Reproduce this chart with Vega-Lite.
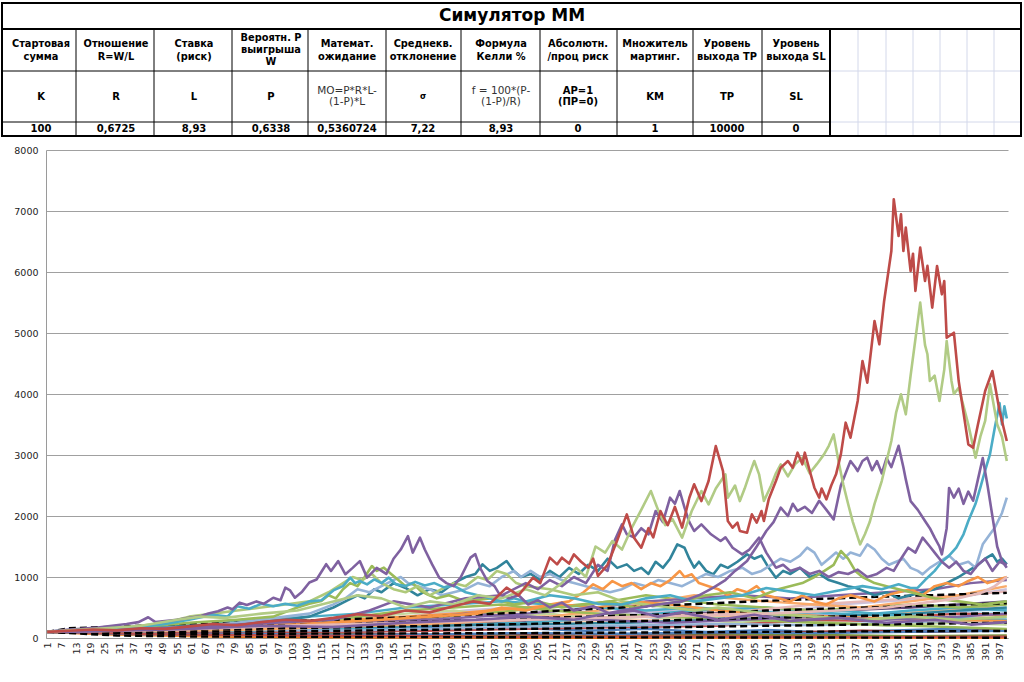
{
 "$schema": "https://vega.github.io/schema/vega-lite/v6.json",
 "padding": 0,
 "background": "white",
 "spacing": 7,
 "config": {"view": {"stroke": null}, "font": "DejaVu Sans"},
 "datasets": {
  "tlines": [
   {"k":"thick","x1":2,"x2":1021,"y1":3,"y2":3},
   {"k":"thick","x1":2,"x2":1021,"y1":136,"y2":136},
   {"k":"thick","x1":2,"x2":2,"y1":3,"y2":136},
   {"k":"thick","x1":1021,"x2":1021,"y1":3,"y2":136},
   {"k":"thick","x1":2,"x2":1021,"y1":29,"y2":29},
   {"k":"thick","x1":830,"x2":830,"y1":29,"y2":136},
   {"k":"thin","x1":76,"x2":76,"y1":29,"y2":136},
   {"k":"thin","x1":154,"x2":154,"y1":29,"y2":136},
   {"k":"thin","x1":232,"x2":232,"y1":29,"y2":136},
   {"k":"thin","x1":308,"x2":308,"y1":29,"y2":136},
   {"k":"thin","x1":386,"x2":386,"y1":29,"y2":136},
   {"k":"thin","x1":461,"x2":461,"y1":29,"y2":136},
   {"k":"thin","x1":540,"x2":540,"y1":29,"y2":136},
   {"k":"thin","x1":617,"x2":617,"y1":29,"y2":136},
   {"k":"thin","x1":693,"x2":693,"y1":29,"y2":136},
   {"k":"thin","x1":762,"x2":762,"y1":29,"y2":136},
   {"k":"thin","x1":2,"x2":830,"y1":71,"y2":71},
   {"k":"thin","x1":2,"x2":830,"y1":122,"y2":122},
   {"k":"grid","x1":858,"x2":858,"y1":29,"y2":136},
   {"k":"grid","x1":886,"x2":886,"y1":29,"y2":136},
   {"k":"grid","x1":913,"x2":913,"y1":29,"y2":136},
   {"k":"grid","x1":940,"x2":940,"y1":29,"y2":136},
   {"k":"grid","x1":967,"x2":967,"y1":29,"y2":136},
   {"k":"grid","x1":994,"x2":994,"y1":29,"y2":136},
   {"k":"grid","x1":830,"x2":1021,"y1":71,"y2":71},
   {"k":"grid","x1":830,"x2":1021,"y1":122,"y2":122}
  ],
  "ttext": [
   {"p":"title","cx":512,"ty":16,"t":"Симулятор ММ"},
   {"p":"h","cx":41,"ty":44,"t":"Стартовая"},{"p":"h","cx":41,"ty":57,"t":"сумма"},
   {"p":"h","cx":116,"ty":44,"t":"Отношение"},{"p":"h","cx":116,"ty":57,"t":"R=W/L"},
   {"p":"h","cx":194,"ty":44,"t":"Ставка"},{"p":"h","cx":194,"ty":57,"t":"(риск)"},
   {"p":"h","cx":271,"ty":38,"t":"Вероятн. P"},{"p":"h","cx":271,"ty":50,"t":"выигрыша"},{"p":"h","cx":271,"ty":62,"t":"W"},
   {"p":"h","cx":347,"ty":44,"t":"Математ."},{"p":"h","cx":347,"ty":57,"t":"ожидание"},
   {"p":"h","cx":423,"ty":44,"t":"Среднекв."},{"p":"h","cx":423,"ty":57,"t":"отклонение"},
   {"p":"h","cx":501,"ty":44,"t":"Формула"},{"p":"h","cx":501,"ty":57,"t":"Келли %"},
   {"p":"h","cx":578,"ty":44,"t":"Абсолютн."},{"p":"h","cx":578,"ty":57,"t":"/проц риск"},
   {"p":"h","cx":655,"ty":44,"t":"Множитель"},{"p":"h","cx":655,"ty":57,"t":"мартинг."},
   {"p":"h","cx":727,"ty":44,"t":"Уровень"},{"p":"h","cx":727,"ty":57,"t":"выхода TP"},
   {"p":"h","cx":796,"ty":44,"t":"Уровень"},{"p":"h","cx":796,"ty":57,"t":"выхода SL"},
   {"p":"sym","cx":41,"ty":97,"t":"K"},
   {"p":"sym","cx":116,"ty":97,"t":"R"},
   {"p":"sym","cx":194,"ty":97,"t":"L"},
   {"p":"sym","cx":271,"ty":97,"t":"P"},
   {"p":"f","cx":347,"ty":91,"t":"MO=P*R*L-"},{"p":"f","cx":347,"ty":102,"t":"(1-P)*L"},
   {"p":"sig","cx":423,"ty":97,"t":"σ"},
   {"p":"f","cx":501,"ty":91,"t":"f = 100*(P-"},{"p":"f","cx":501,"ty":102,"t":"(1-P)/R)"},
   {"p":"sym","cx":578,"ty":91,"t":"AP=1"},{"p":"sym","cx":578,"ty":102,"t":"(ПР=0)"},
   {"p":"sym","cx":655,"ty":97,"t":"KM"},
   {"p":"sym","cx":727,"ty":97,"t":"TP"},
   {"p":"sym","cx":796,"ty":97,"t":"SL"},
   {"p":"val","cx":41,"ty":129,"t":"100"},
   {"p":"val","cx":116,"ty":129,"t":"0,6725"},
   {"p":"val","cx":194,"ty":129,"t":"8,93"},
   {"p":"val","cx":271,"ty":129,"t":"0,6338"},
   {"p":"val","cx":347,"ty":129,"t":"0,5360724"},
   {"p":"val","cx":423,"ty":129,"t":"7,22"},
   {"p":"val","cx":501,"ty":129,"t":"8,93"},
   {"p":"val","cx":578,"ty":129,"t":"0"},
   {"p":"val","cx":655,"ty":129,"t":"1"},
   {"p":"val","cx":727,"ty":129,"t":"10000"},
   {"p":"val","cx":796,"ty":129,"t":"0"}
  ],
  "low": [
   {"s":"l1","i":1,"v":100},{"s":"l1","i":25,"v":90},{"s":"l1","i":50,"v":130},{"s":"l1","i":75,"v":110},{"s":"l1","i":100,"v":150},{"s":"l1","i":125,"v":120},{"s":"l1","i":150,"v":180},{"s":"l1","i":175,"v":140},{"s":"l1","i":200,"v":160},{"s":"l1","i":225,"v":120},{"s":"l1","i":250,"v":150},{"s":"l1","i":275,"v":100},{"s":"l1","i":300,"v":130},{"s":"l1","i":325,"v":90},{"s":"l1","i":350,"v":120},{"s":"l1","i":375,"v":150},{"s":"l1","i":400,"v":130},
   {"s":"l2","i":1,"v":100},{"s":"l2","i":30,"v":80},{"s":"l2","i":60,"v":60},{"s":"l2","i":90,"v":70},{"s":"l2","i":120,"v":50},{"s":"l2","i":150,"v":40},{"s":"l2","i":180,"v":55},{"s":"l2","i":210,"v":30},{"s":"l2","i":240,"v":40},{"s":"l2","i":270,"v":25},{"s":"l2","i":300,"v":30},{"s":"l2","i":330,"v":20},{"s":"l2","i":360,"v":25},{"s":"l2","i":400,"v":15},
   {"s":"l3","i":1,"v":100},{"s":"l3","i":20,"v":70},{"s":"l3","i":40,"v":50},{"s":"l3","i":60,"v":30},{"s":"l3","i":80,"v":20},{"s":"l3","i":100,"v":15},{"s":"l3","i":130,"v":10},{"s":"l3","i":160,"v":8},{"s":"l3","i":200,"v":5},{"s":"l3","i":250,"v":5},{"s":"l3","i":300,"v":4},{"s":"l3","i":350,"v":3},{"s":"l3","i":400,"v":3},
   {"s":"l4","i":1,"v":100},{"s":"l4","i":25,"v":120},{"s":"l4","i":50,"v":90},{"s":"l4","i":75,"v":80},{"s":"l4","i":100,"v":60},{"s":"l4","i":130,"v":75},{"s":"l4","i":160,"v":50},{"s":"l4","i":190,"v":60},{"s":"l4","i":220,"v":40},{"s":"l4","i":250,"v":50},{"s":"l4","i":280,"v":70},{"s":"l4","i":310,"v":90},{"s":"l4","i":340,"v":120},{"s":"l4","i":370,"v":100},{"s":"l4","i":400,"v":130},
   {"s":"l5","i":1,"v":100},{"s":"l5","i":30,"v":60},{"s":"l5","i":60,"v":40},{"s":"l5","i":90,"v":30},{"s":"l5","i":120,"v":35},{"s":"l5","i":150,"v":25},{"s":"l5","i":180,"v":20},{"s":"l5","i":210,"v":15},{"s":"l5","i":240,"v":20},{"s":"l5","i":270,"v":10},{"s":"l5","i":300,"v":12},{"s":"l5","i":340,"v":8},{"s":"l5","i":400,"v":10},
   {"s":"l6","i":1,"v":100},{"s":"l6","i":20,"v":130},{"s":"l6","i":45,"v":160},{"s":"l6","i":70,"v":200},{"s":"l6","i":95,"v":180},{"s":"l6","i":120,"v":250},{"s":"l6","i":145,"v":220},{"s":"l6","i":170,"v":300},{"s":"l6","i":195,"v":260},{"s":"l6","i":220,"v":330},{"s":"l6","i":245,"v":280},{"s":"l6","i":270,"v":350},{"s":"l6","i":295,"v":300},{"s":"l6","i":320,"v":380},{"s":"l6","i":345,"v":340},{"s":"l6","i":370,"v":420},{"s":"l6","i":400,"v":480},
   {"s":"l7","i":1,"v":100},{"s":"l7","i":25,"v":140},{"s":"l7","i":50,"v":180},{"s":"l7","i":75,"v":160},{"s":"l7","i":100,"v":220},{"s":"l7","i":125,"v":260},{"s":"l7","i":150,"v":300},{"s":"l7","i":170,"v":380},{"s":"l7","i":190,"v":420},{"s":"l7","i":210,"v":350},{"s":"l7","i":230,"v":400},{"s":"l7","i":250,"v":450},{"s":"l7","i":270,"v":380},{"s":"l7","i":290,"v":350},{"s":"l7","i":310,"v":300},{"s":"l7","i":330,"v":330},{"s":"l7","i":350,"v":380},{"s":"l7","i":370,"v":450},{"s":"l7","i":390,"v":500},{"s":"l7","i":400,"v":560},
   {"s":"l8","i":1,"v":100},{"s":"l8","i":30,"v":110},{"s":"l8","i":60,"v":130},{"s":"l8","i":90,"v":170},{"s":"l8","i":120,"v":200},{"s":"l8","i":150,"v":250},{"s":"l8","i":180,"v":220},{"s":"l8","i":210,"v":280},{"s":"l8","i":240,"v":230},{"s":"l8","i":270,"v":300},{"s":"l8","i":300,"v":260},{"s":"l8","i":330,"v":320},{"s":"l8","i":360,"v":380},{"s":"l8","i":400,"v":420},
   {"s":"l9","i":1,"v":100},{"s":"l9","i":30,"v":130},{"s":"l9","i":60,"v":160},{"s":"l9","i":90,"v":200},{"s":"l9","i":120,"v":300},{"s":"l9","i":150,"v":350},{"s":"l9","i":175,"v":450},{"s":"l9","i":195,"v":500},{"s":"l9","i":215,"v":450},{"s":"l9","i":240,"v":400},{"s":"l9","i":265,"v":450},{"s":"l9","i":290,"v":500},{"s":"l9","i":310,"v":450},{"s":"l9","i":330,"v":550},{"s":"l9","i":350,"v":600},{"s":"l9","i":370,"v":650},{"s":"l9","i":385,"v":700},{"s":"l9","i":400,"v":800},
   {"s":"l10","i":1,"v":100},{"s":"l10","i":30,"v":120},{"s":"l10","i":60,"v":180},{"s":"l10","i":90,"v":250},{"s":"l10","i":120,"v":300},{"s":"l10","i":150,"v":400},{"s":"l10","i":170,"v":450},{"s":"l10","i":190,"v":350},{"s":"l10","i":210,"v":400},{"s":"l10","i":230,"v":300},{"s":"l10","i":250,"v":350},{"s":"l10","i":270,"v":300},{"s":"l10","i":290,"v":250},{"s":"l10","i":310,"v":300},{"s":"l10","i":330,"v":250},{"s":"l10","i":350,"v":200},{"s":"l10","i":375,"v":250},{"s":"l10","i":400,"v":220},
   {"s":"l11","i":1,"v":100},{"s":"l11","i":40,"v":140},{"s":"l11","i":80,"v":200},{"s":"l11","i":120,"v":180},{"s":"l11","i":160,"v":250},{"s":"l11","i":200,"v":220},{"s":"l11","i":240,"v":300},{"s":"l11","i":280,"v":280},{"s":"l11","i":320,"v":350},{"s":"l11","i":360,"v":320},{"s":"l11","i":400,"v":380},
   {"s":"l12","i":1,"v":100},{"s":"l12","i":30,"v":90},{"s":"l12","i":60,"v":110},{"s":"l12","i":90,"v":130},{"s":"l12","i":120,"v":160},{"s":"l12","i":150,"v":200},{"s":"l12","i":180,"v":250},{"s":"l12","i":210,"v":300},{"s":"l12","i":240,"v":350},{"s":"l12","i":270,"v":420},{"s":"l12","i":300,"v":380},{"s":"l12","i":330,"v":450},{"s":"l12","i":360,"v":500},{"s":"l12","i":380,"v":550},{"s":"l12","i":400,"v":600},
   {"s":"l13","i":1,"v":100},{"s":"l13","i":40,"v":80},{"s":"l13","i":80,"v":100},{"s":"l13","i":120,"v":150},{"s":"l13","i":160,"v":200},{"s":"l13","i":200,"v":250},{"s":"l13","i":240,"v":350},{"s":"l13","i":270,"v":450},{"s":"l13","i":300,"v":500},{"s":"l13","i":320,"v":420},{"s":"l13","i":340,"v":380},{"s":"l13","i":360,"v":450},{"s":"l13","i":380,"v":500},{"s":"l13","i":400,"v":450},
   {"s":"l14","i":1,"v":100},{"s":"l14","i":40,"v":110},{"s":"l14","i":80,"v":80},{"s":"l14","i":120,"v":100},{"s":"l14","i":160,"v":120},{"s":"l14","i":200,"v":150},{"s":"l14","i":240,"v":180},{"s":"l14","i":280,"v":200},{"s":"l14","i":300,"v":250},{"s":"l14","i":320,"v":300},{"s":"l14","i":340,"v":280},{"s":"l14","i":360,"v":350},{"s":"l14","i":380,"v":400},{"s":"l14","i":400,"v":380},
   {"s":"l15","i":1,"v":100},{"s":"l15","i":40,"v":70},{"s":"l15","i":80,"v":50},{"s":"l15","i":120,"v":60},{"s":"l15","i":160,"v":40},{"s":"l15","i":200,"v":30},{"s":"l15","i":240,"v":35},{"s":"l15","i":280,"v":40},{"s":"l15","i":320,"v":50},{"s":"l15","i":360,"v":30},{"s":"l15","i":400,"v":40},
   {"s":"l16","i":1,"v":100},{"s":"l16","i":30,"v":150},{"s":"l16","i":60,"v":200},{"s":"l16","i":90,"v":180},{"s":"l16","i":120,"v":250},{"s":"l16","i":150,"v":300},{"s":"l16","i":180,"v":400},{"s":"l16","i":210,"v":500},{"s":"l16","i":235,"v":600},{"s":"l16","i":250,"v":700},{"s":"l16","i":260,"v":650},{"s":"l16","i":280,"v":550},{"s":"l16","i":300,"v":500},{"s":"l16","i":320,"v":450},{"s":"l16","i":340,"v":500},{"s":"l16","i":360,"v":550},{"s":"l16","i":380,"v":500},{"s":"l16","i":400,"v":550},
   {"s":"l17","i":1,"v":100},{"s":"l17","i":40,"v":120},{"s":"l17","i":80,"v":150},{"s":"l17","i":120,"v":180},{"s":"l17","i":160,"v":200},{"s":"l17","i":200,"v":220},{"s":"l17","i":240,"v":250},{"s":"l17","i":280,"v":300},{"s":"l17","i":320,"v":350},{"s":"l17","i":360,"v":400},{"s":"l17","i":400,"v":500},
   {"s":"l18","i":1,"v":100},{"s":"l18","i":40,"v":130},{"s":"l18","i":80,"v":160},{"s":"l18","i":120,"v":200},{"s":"l18","i":160,"v":260},{"s":"l18","i":200,"v":300},{"s":"l18","i":240,"v":350},{"s":"l18","i":280,"v":400},{"s":"l18","i":320,"v":550},{"s":"l18","i":340,"v":600},{"s":"l18","i":360,"v":650},{"s":"l18","i":380,"v":700},{"s":"l18","i":400,"v":760},
   {"s":"l19","i":1,"v":100},{"s":"l19","i":40,"v":110},{"s":"l19","i":80,"v":140},{"s":"l19","i":120,"v":120},{"s":"l19","i":160,"v":150},{"s":"l19","i":200,"v":180},{"s":"l19","i":240,"v":200},{"s":"l19","i":280,"v":230},{"s":"l19","i":320,"v":210},{"s":"l19","i":360,"v":260},{"s":"l19","i":400,"v":300},
   {"s":"l20","i":1,"v":100},{"s":"l20","i":40,"v":120},{"s":"l20","i":80,"v":130},{"s":"l20","i":120,"v":180},{"s":"l20","i":160,"v":230},{"s":"l20","i":200,"v":300},{"s":"l20","i":220,"v":400},{"s":"l20","i":240,"v":500},{"s":"l20","i":255,"v":600},{"s":"l20","i":270,"v":700},{"s":"l20","i":285,"v":650},{"s":"l20","i":300,"v":600},{"s":"l20","i":320,"v":550},{"s":"l20","i":340,"v":500},{"s":"l20","i":360,"v":600},{"s":"l20","i":380,"v":700},{"s":"l20","i":400,"v":850},
   {"s":"l21","i":1,"v":100},{"s":"l21","i":40,"v":60},{"s":"l21","i":80,"v":70},{"s":"l21","i":120,"v":50},{"s":"l21","i":160,"v":60},{"s":"l21","i":200,"v":80},{"s":"l21","i":240,"v":70},{"s":"l21","i":280,"v":90},{"s":"l21","i":320,"v":80},{"s":"l21","i":360,"v":100},{"s":"l21","i":400,"v":120},
   {"s":"l22","i":1,"v":100},{"s":"l22","i":40,"v":150},{"s":"l22","i":80,"v":200},{"s":"l22","i":120,"v":250},{"s":"l22","i":160,"v":300},{"s":"l22","i":200,"v":400},{"s":"l22","i":230,"v":500},{"s":"l22","i":250,"v":600},{"s":"l22","i":270,"v":650},{"s":"l22","i":290,"v":700},{"s":"l22","i":310,"v":650},{"s":"l22","i":330,"v":700},{"s":"l22","i":350,"v":750},{"s":"l22","i":370,"v":800},{"s":"l22","i":385,"v":900},{"s":"l22","i":400,"v":950},
   {"s":"l23","i":1,"v":100},{"s":"l23","i":50,"v":60},{"s":"l23","i":100,"v":40},{"s":"l23","i":150,"v":30},{"s":"l23","i":200,"v":20},{"s":"l23","i":250,"v":25},{"s":"l23","i":300,"v":20},{"s":"l23","i":350,"v":15},{"s":"l23","i":400,"v":20},
   {"s":"l24","i":1,"v":100},{"s":"l24","i":30,"v":140},{"s":"l24","i":60,"v":200},{"s":"l24","i":90,"v":300},{"s":"l24","i":110,"v":350},{"s":"l24","i":130,"v":400},{"s":"l24","i":150,"v":500},{"s":"l24","i":170,"v":550},{"s":"l24","i":190,"v":600},{"s":"l24","i":210,"v":550},{"s":"l24","i":230,"v":500},{"s":"l24","i":250,"v":450},{"s":"l24","i":270,"v":500},{"s":"l24","i":290,"v":450},{"s":"l24","i":310,"v":400},{"s":"l24","i":330,"v":450},{"s":"l24","i":360,"v":350},{"s":"l24","i":400,"v":300},
   {"s":"l25","i":1,"v":100},{"s":"l25","i":30,"v":130},{"s":"l25","i":60,"v":180},{"s":"l25","i":90,"v":220},{"s":"l25","i":120,"v":280},{"s":"l25","i":150,"v":350},{"s":"l25","i":170,"v":400},{"s":"l25","i":185,"v":450},{"s":"l25","i":200,"v":500},{"s":"l25","i":215,"v":550},{"s":"l25","i":230,"v":500},{"s":"l25","i":245,"v":600},{"s":"l25","i":260,"v":550},{"s":"l25","i":280,"v":450},{"s":"l25","i":300,"v":400},{"s":"l25","i":330,"v":350},{"s":"l25","i":360,"v":300},{"s":"l25","i":400,"v":280},
   {"s":"l26","i":1,"v":100},{"s":"l26","i":40,"v":150},{"s":"l26","i":80,"v":250},{"s":"l26","i":120,"v":300},{"s":"l26","i":150,"v":450},{"s":"l26","i":170,"v":500},{"s":"l26","i":190,"v":550},{"s":"l26","i":210,"v":450},{"s":"l26","i":230,"v":400},{"s":"l26","i":260,"v":350},{"s":"l26","i":290,"v":300},{"s":"l26","i":320,"v":250},{"s":"l26","i":360,"v":200},{"s":"l26","i":400,"v":150},
   {"s":"l27","i":1,"v":100},{"s":"l27","i":40,"v":130},{"s":"l27","i":80,"v":180},{"s":"l27","i":120,"v":220},{"s":"l27","i":150,"v":300},{"s":"l27","i":175,"v":400},{"s":"l27","i":200,"v":350},{"s":"l27","i":230,"v":300},{"s":"l27","i":260,"v":250},{"s":"l27","i":290,"v":300},{"s":"l27","i":320,"v":350},{"s":"l27","i":350,"v":300},{"s":"l27","i":380,"v":350},{"s":"l27","i":400,"v":400}
  ],
  "dash": [
   {"s":"d1","i":1,"v":100},{"s":"d1","i":10,"v":160},{"s":"d1","i":40,"v":200},{"s":"d1","i":80,"v":250},{"s":"d1","i":120,"v":300},{"s":"d1","i":160,"v":350},{"s":"d1","i":200,"v":420},{"s":"d1","i":250,"v":520},{"s":"d1","i":300,"v":610},{"s":"d1","i":350,"v":680},{"s":"d1","i":400,"v":740},
   {"s":"d2","i":1,"v":100},{"s":"d2","i":50,"v":160},{"s":"d2","i":100,"v":210},{"s":"d2","i":150,"v":260},{"s":"d2","i":200,"v":320},{"s":"d2","i":250,"v":380},{"s":"d2","i":300,"v":450},{"s":"d2","i":350,"v":510},{"s":"d2","i":400,"v":570},
   {"s":"d3","i":1,"v":100},{"s":"d3","i":50,"v":130},{"s":"d3","i":100,"v":160},{"s":"d3","i":150,"v":190},{"s":"d3","i":200,"v":230},{"s":"d3","i":250,"v":280},{"s":"d3","i":300,"v":330},{"s":"d3","i":350,"v":370},{"s":"d3","i":400,"v":410},
   {"s":"d4","i":1,"v":100},{"s":"d4","i":50,"v":100},{"s":"d4","i":100,"v":110},{"s":"d4","i":150,"v":130},{"s":"d4","i":200,"v":150},{"s":"d4","i":250,"v":170},{"s":"d4","i":300,"v":200},{"s":"d4","i":350,"v":225},{"s":"d4","i":400,"v":250},
   {"s":"d5","i":1,"v":100},{"s":"d5","i":50,"v":70},{"s":"d5","i":100,"v":70},{"s":"d5","i":150,"v":75},{"s":"d5","i":200,"v":80},{"s":"d5","i":250,"v":90},{"s":"d5","i":300,"v":100},{"s":"d5","i":350,"v":110},{"s":"d5","i":400,"v":115},
   {"s":"d6","i":1,"v":100},{"s":"d6","i":30,"v":40},{"s":"d6","i":60,"v":25},{"s":"d6","i":100,"v":20},{"s":"d6","i":150,"v":15},{"s":"d6","i":200,"v":12},{"s":"d6","i":300,"v":8},{"s":"d6","i":400,"v":5}
  ],
  "major": [
   {"s":"dteal","i":1,"v":100},{"s":"dteal","i":20,"v":120},{"s":"dteal","i":40,"v":160},{"s":"dteal","i":60,"v":200},{"s":"dteal","i":80,"v":230},{"s":"dteal","i":100,"v":300},{"s":"dteal","i":110,"v":350},{"s":"dteal","i":120,"v":500},{"s":"dteal","i":125,"v":600},{"s":"dteal","i":130,"v":700},{"s":"dteal","i":133,"v":650},{"s":"dteal","i":137,"v":800},{"s":"dteal","i":140,"v":750},{"s":"dteal","i":145,"v":900},{"s":"dteal","i":150,"v":820},{"s":"dteal","i":155,"v":700},{"s":"dteal","i":160,"v":800},{"s":"dteal","i":165,"v":750},{"s":"dteal","i":170,"v":900},{"s":"dteal","i":175,"v":1000},{"s":"dteal","i":179,"v":1050},{"s":"dteal","i":182,"v":1207},{"s":"dteal","i":185,"v":1100},{"s":"dteal","i":188,"v":1150},{"s":"dteal","i":192,"v":1262},{"s":"dteal","i":195,"v":1100},{"s":"dteal","i":198,"v":1000},{"s":"dteal","i":202,"v":1050},{"s":"dteal","i":206,"v":950},{"s":"dteal","i":210,"v":1100},{"s":"dteal","i":214,"v":1000},{"s":"dteal","i":218,"v":1150},{"s":"dteal","i":222,"v":1050},{"s":"dteal","i":226,"v":1200},{"s":"dteal","i":230,"v":1100},{"s":"dteal","i":234,"v":1300},{"s":"dteal","i":238,"v":1150},{"s":"dteal","i":242,"v":1207},{"s":"dteal","i":245,"v":1100},{"s":"dteal","i":248,"v":1150},{"s":"dteal","i":251,"v":1050},{"s":"dteal","i":254,"v":1250},{"s":"dteal","i":257,"v":1150},{"s":"dteal","i":260,"v":1300},{"s":"dteal","i":263,"v":1535},{"s":"dteal","i":266,"v":1480},{"s":"dteal","i":268,"v":1300},{"s":"dteal","i":270,"v":1153},{"s":"dteal","i":272,"v":1250},{"s":"dteal","i":275,"v":1100},{"s":"dteal","i":278,"v":1044},{"s":"dteal","i":281,"v":1200},{"s":"dteal","i":284,"v":1150},{"s":"dteal","i":288,"v":1250},{"s":"dteal","i":292,"v":1371},{"s":"dteal","i":295,"v":1300},{"s":"dteal","i":298,"v":1350},{"s":"dteal","i":301,"v":1150},{"s":"dteal","i":304,"v":989},{"s":"dteal","i":307,"v":1100},{"s":"dteal","i":310,"v":1050},{"s":"dteal","i":314,"v":1150},{"s":"dteal","i":318,"v":1000},{"s":"dteal","i":322,"v":1050},{"s":"dteal","i":326,"v":950},{"s":"dteal","i":330,"v":900},{"s":"dteal","i":334,"v":850},{"s":"dteal","i":337,"v":825},{"s":"dteal","i":340,"v":780},{"s":"dteal","i":345,"v":700},{"s":"dteal","i":350,"v":750},{"s":"dteal","i":355,"v":650},{"s":"dteal","i":360,"v":700},{"s":"dteal","i":365,"v":750},{"s":"dteal","i":370,"v":800},{"s":"dteal","i":375,"v":900},{"s":"dteal","i":380,"v":1000},{"s":"dteal","i":384,"v":1100},{"s":"dteal","i":388,"v":1200},{"s":"dteal","i":391,"v":1300},{"s":"dteal","i":394,"v":1371},{"s":"dteal","i":396,"v":1250},{"s":"dteal","i":398,"v":1300},{"s":"dteal","i":400,"v":1207},
   {"s":"lblue","i":1,"v":100},{"s":"lblue","i":20,"v":120},{"s":"lblue","i":40,"v":150},{"s":"lblue","i":60,"v":180},{"s":"lblue","i":80,"v":250},{"s":"lblue","i":100,"v":350},{"s":"lblue","i":110,"v":400},{"s":"lblue","i":120,"v":550},{"s":"lblue","i":125,"v":650},{"s":"lblue","i":130,"v":800},{"s":"lblue","i":135,"v":750},{"s":"lblue","i":140,"v":850},{"s":"lblue","i":145,"v":950},{"s":"lblue","i":148,"v":1000},{"s":"lblue","i":151,"v":900},{"s":"lblue","i":155,"v":850},{"s":"lblue","i":160,"v":800},{"s":"lblue","i":165,"v":700},{"s":"lblue","i":170,"v":750},{"s":"lblue","i":175,"v":800},{"s":"lblue","i":180,"v":900},{"s":"lblue","i":185,"v":850},{"s":"lblue","i":190,"v":1000},{"s":"lblue","i":195,"v":1098},{"s":"lblue","i":198,"v":1000},{"s":"lblue","i":202,"v":1100},{"s":"lblue","i":206,"v":1000},{"s":"lblue","i":210,"v":1050},{"s":"lblue","i":215,"v":950},{"s":"lblue","i":220,"v":900},{"s":"lblue","i":225,"v":850},{"s":"lblue","i":230,"v":800},{"s":"lblue","i":235,"v":750},{"s":"lblue","i":240,"v":800},{"s":"lblue","i":245,"v":900},{"s":"lblue","i":250,"v":850},{"s":"lblue","i":255,"v":950},{"s":"lblue","i":260,"v":900},{"s":"lblue","i":265,"v":850},{"s":"lblue","i":270,"v":950},{"s":"lblue","i":275,"v":1050},{"s":"lblue","i":280,"v":1000},{"s":"lblue","i":285,"v":1100},{"s":"lblue","i":290,"v":1153},{"s":"lblue","i":294,"v":1050},{"s":"lblue","i":298,"v":1100},{"s":"lblue","i":302,"v":1200},{"s":"lblue","i":306,"v":1300},{"s":"lblue","i":310,"v":1250},{"s":"lblue","i":314,"v":1350},{"s":"lblue","i":317,"v":1481},{"s":"lblue","i":320,"v":1400},{"s":"lblue","i":323,"v":1200},{"s":"lblue","i":326,"v":1300},{"s":"lblue","i":329,"v":1400},{"s":"lblue","i":332,"v":1300},{"s":"lblue","i":335,"v":1400},{"s":"lblue","i":339,"v":1350},{"s":"lblue","i":342,"v":1535},{"s":"lblue","i":345,"v":1450},{"s":"lblue","i":348,"v":1300},{"s":"lblue","i":351,"v":1200},{"s":"lblue","i":354,"v":1250},{"s":"lblue","i":357,"v":1300},{"s":"lblue","i":360,"v":1150},{"s":"lblue","i":363,"v":1100},{"s":"lblue","i":365,"v":1044},{"s":"lblue","i":368,"v":1150},{"s":"lblue","i":372,"v":1250},{"s":"lblue","i":376,"v":1350},{"s":"lblue","i":380,"v":1200},{"s":"lblue","i":384,"v":1250},{"s":"lblue","i":387,"v":1150},{"s":"lblue","i":390,"v":1535},{"s":"lblue","i":393,"v":1700},{"s":"lblue","i":395,"v":1808},{"s":"lblue","i":398,"v":2050},{"s":"lblue","i":400,"v":2300},
   {"s":"orange","i":1,"v":100},{"s":"orange","i":20,"v":110},{"s":"orange","i":40,"v":130},{"s":"orange","i":60,"v":150},{"s":"orange","i":80,"v":180},{"s":"orange","i":100,"v":200},{"s":"orange","i":120,"v":250},{"s":"orange","i":140,"v":300},{"s":"orange","i":160,"v":350},{"s":"orange","i":180,"v":400},{"s":"orange","i":190,"v":500},{"s":"orange","i":200,"v":450},{"s":"orange","i":210,"v":550},{"s":"orange","i":218,"v":600},{"s":"orange","i":224,"v":750},{"s":"orange","i":228,"v":880},{"s":"orange","i":232,"v":800},{"s":"orange","i":236,"v":934},{"s":"orange","i":240,"v":850},{"s":"orange","i":244,"v":900},{"s":"orange","i":248,"v":800},{"s":"orange","i":252,"v":900},{"s":"orange","i":256,"v":850},{"s":"orange","i":260,"v":950},{"s":"orange","i":264,"v":1098},{"s":"orange","i":266,"v":1000},{"s":"orange","i":269,"v":1044},{"s":"orange","i":272,"v":900},{"s":"orange","i":276,"v":850},{"s":"orange","i":280,"v":800},{"s":"orange","i":284,"v":700},{"s":"orange","i":288,"v":800},{"s":"orange","i":292,"v":750},{"s":"orange","i":296,"v":850},{"s":"orange","i":300,"v":700},{"s":"orange","i":305,"v":650},{"s":"orange","i":310,"v":600},{"s":"orange","i":315,"v":700},{"s":"orange","i":320,"v":600},{"s":"orange","i":325,"v":550},{"s":"orange","i":330,"v":650},{"s":"orange","i":335,"v":700},{"s":"orange","i":340,"v":650},{"s":"orange","i":345,"v":600},{"s":"orange","i":350,"v":700},{"s":"orange","i":355,"v":750},{"s":"orange","i":360,"v":800},{"s":"orange","i":365,"v":700},{"s":"orange","i":370,"v":850},{"s":"orange","i":375,"v":900},{"s":"orange","i":380,"v":850},{"s":"orange","i":384,"v":935},{"s":"orange","i":388,"v":1000},{"s":"orange","i":392,"v":900},{"s":"orange","i":396,"v":950},{"s":"orange","i":400,"v":1000},
   {"s":"green","i":1,"v":100},{"s":"green","i":20,"v":120},{"s":"green","i":40,"v":180},{"s":"green","i":60,"v":250},{"s":"green","i":80,"v":300},{"s":"green","i":95,"v":350},{"s":"green","i":105,"v":500},{"s":"green","i":110,"v":560},{"s":"green","i":115,"v":607},{"s":"green","i":118,"v":700},{"s":"green","i":121,"v":650},{"s":"green","i":124,"v":800},{"s":"green","i":127,"v":900},{"s":"green","i":130,"v":850},{"s":"green","i":133,"v":1000},{"s":"green","i":136,"v":1180},{"s":"green","i":138,"v":1100},{"s":"green","i":141,"v":1153},{"s":"green","i":144,"v":1050},{"s":"green","i":147,"v":950},{"s":"green","i":150,"v":850},{"s":"green","i":153,"v":900},{"s":"green","i":156,"v":780},{"s":"green","i":159,"v":715},{"s":"green","i":163,"v":650},{"s":"green","i":168,"v":700},{"s":"green","i":175,"v":600},{"s":"green","i":185,"v":650},{"s":"green","i":195,"v":550},{"s":"green","i":205,"v":600},{"s":"green","i":215,"v":500},{"s":"green","i":225,"v":550},{"s":"green","i":235,"v":600},{"s":"green","i":245,"v":500},{"s":"green","i":255,"v":550},{"s":"green","i":265,"v":600},{"s":"green","i":275,"v":700},{"s":"green","i":285,"v":750},{"s":"green","i":295,"v":650},{"s":"green","i":305,"v":800},{"s":"green","i":315,"v":900},{"s":"green","i":320,"v":1000},{"s":"green","i":324,"v":1098},{"s":"green","i":328,"v":1200},{"s":"green","i":331,"v":1426},{"s":"green","i":334,"v":1300},{"s":"green","i":337,"v":1100},{"s":"green","i":340,"v":1000},{"s":"green","i":345,"v":900},{"s":"green","i":350,"v":850},{"s":"green","i":355,"v":800},{"s":"green","i":360,"v":750},{"s":"green","i":365,"v":700},{"s":"green","i":370,"v":650},{"s":"green","i":380,"v":600},{"s":"green","i":390,"v":550},{"s":"green","i":400,"v":600},
   {"s":"lg2","i":1,"v":100},{"s":"lg2","i":30,"v":150},{"s":"lg2","i":50,"v":250},{"s":"lg2","i":60,"v":350},{"s":"lg2","i":70,"v":400},{"s":"lg2","i":80,"v":450},{"s":"lg2","i":90,"v":500},{"s":"lg2","i":100,"v":550},{"s":"lg2","i":110,"v":600},{"s":"lg2","i":118,"v":750},{"s":"lg2","i":124,"v":900},{"s":"lg2","i":128,"v":1000},{"s":"lg2","i":132,"v":950},{"s":"lg2","i":136,"v":1050},{"s":"lg2","i":140,"v":900},{"s":"lg2","i":145,"v":800},{"s":"lg2","i":150,"v":750},{"s":"lg2","i":155,"v":850},{"s":"lg2","i":160,"v":700},{"s":"lg2","i":165,"v":800},{"s":"lg2","i":170,"v":900},{"s":"lg2","i":175,"v":850},{"s":"lg2","i":180,"v":1000},{"s":"lg2","i":184,"v":950},{"s":"lg2","i":188,"v":1100},{"s":"lg2","i":192,"v":1050},{"s":"lg2","i":196,"v":900},{"s":"lg2","i":200,"v":850},{"s":"lg2","i":210,"v":800},{"s":"lg2","i":220,"v":700},{"s":"lg2","i":230,"v":750},{"s":"lg2","i":240,"v":600},{"s":"lg2","i":250,"v":550},{"s":"lg2","i":260,"v":500},{"s":"lg2","i":270,"v":450},{"s":"lg2","i":280,"v":500},{"s":"lg2","i":290,"v":450},{"s":"lg2","i":300,"v":400},{"s":"lg2","i":320,"v":350},{"s":"lg2","i":340,"v":300},{"s":"lg2","i":360,"v":350},{"s":"lg2","i":380,"v":300},{"s":"lg2","i":400,"v":350},
   {"s":"pink","i":1,"v":100},{"s":"pink","i":50,"v":130},{"s":"pink","i":100,"v":200},{"s":"pink","i":150,"v":250},{"s":"pink","i":200,"v":300},{"s":"pink","i":250,"v":350},{"s":"pink","i":300,"v":400},{"s":"pink","i":330,"v":450},{"s":"pink","i":350,"v":500},{"s":"pink","i":360,"v":550},{"s":"pink","i":370,"v":600},{"s":"pink","i":380,"v":650},{"s":"pink","i":385,"v":700},{"s":"pink","i":390,"v":750},{"s":"pink","i":395,"v":850},{"s":"pink","i":400,"v":1000},
   {"s":"teal","i":1,"v":100},{"s":"teal","i":10,"v":130},{"s":"teal","i":20,"v":150},{"s":"teal","i":30,"v":170},{"s":"teal","i":40,"v":180},{"s":"teal","i":50,"v":230},{"s":"teal","i":60,"v":300},{"s":"teal","i":70,"v":380},{"s":"teal","i":76,"v":350},{"s":"teal","i":80,"v":520},{"s":"teal","i":85,"v":480},{"s":"teal","i":90,"v":560},{"s":"teal","i":95,"v":520},{"s":"teal","i":100,"v":560},{"s":"teal","i":105,"v":530},{"s":"teal","i":110,"v":600},{"s":"teal","i":115,"v":620},{"s":"teal","i":120,"v":780},{"s":"teal","i":124,"v":850},{"s":"teal","i":127,"v":990},{"s":"teal","i":129,"v":900},{"s":"teal","i":131,"v":935},{"s":"teal","i":134,"v":880},{"s":"teal","i":137,"v":960},{"s":"teal","i":140,"v":900},{"s":"teal","i":143,"v":990},{"s":"teal","i":146,"v":880},{"s":"teal","i":150,"v":850},{"s":"teal","i":154,"v":920},{"s":"teal","i":158,"v":860},{"s":"teal","i":162,"v":900},{"s":"teal","i":166,"v":830},{"s":"teal","i":170,"v":860},{"s":"teal","i":175,"v":750},{"s":"teal","i":180,"v":700},{"s":"teal","i":185,"v":650},{"s":"teal","i":190,"v":600},{"s":"teal","i":195,"v":650},{"s":"teal","i":200,"v":600},{"s":"teal","i":210,"v":700},{"s":"teal","i":220,"v":650},{"s":"teal","i":230,"v":560},{"s":"teal","i":240,"v":550},{"s":"teal","i":250,"v":650},{"s":"teal","i":260,"v":700},{"s":"teal","i":270,"v":600},{"s":"teal","i":280,"v":650},{"s":"teal","i":290,"v":700},{"s":"teal","i":300,"v":820},{"s":"teal","i":310,"v":760},{"s":"teal","i":320,"v":700},{"s":"teal","i":330,"v":780},{"s":"teal","i":340,"v":850},{"s":"teal","i":348,"v":800},{"s":"teal","i":355,"v":880},{"s":"teal","i":360,"v":820},{"s":"teal","i":363,"v":825},{"s":"teal","i":366,"v":950},{"s":"teal","i":370,"v":1100},{"s":"teal","i":373,"v":1250},{"s":"teal","i":376,"v":1350},{"s":"teal","i":379,"v":1481},{"s":"teal","i":382,"v":1700},{"s":"teal","i":384,"v":1918},{"s":"teal","i":387,"v":2200},{"s":"teal","i":389,"v":2464},{"s":"teal","i":391,"v":2750},{"s":"teal","i":393,"v":3010},{"s":"teal","i":395,"v":3448},{"s":"teal","i":397,"v":3850},{"s":"teal","i":398,"v":3500},{"s":"teal","i":399,"v":3800},{"s":"teal","i":400,"v":3600},
   {"s":"pur1","i":1,"v":100},{"s":"pur1","i":8,"v":130},{"s":"pur1","i":15,"v":150},{"s":"pur1","i":22,"v":170},{"s":"pur1","i":28,"v":200},{"s":"pur1","i":34,"v":230},{"s":"pur1","i":39,"v":260},{"s":"pur1","i":43,"v":340},{"s":"pur1","i":46,"v":260},{"s":"pur1","i":50,"v":280},{"s":"pur1","i":55,"v":300},{"s":"pur1","i":60,"v":330},{"s":"pur1","i":65,"v":360},{"s":"pur1","i":68,"v":400},{"s":"pur1","i":72,"v":440},{"s":"pur1","i":76,"v":500},{"s":"pur1","i":78,"v":470},{"s":"pur1","i":81,"v":580},{"s":"pur1","i":84,"v":540},{"s":"pur1","i":88,"v":600},{"s":"pur1","i":91,"v":560},{"s":"pur1","i":95,"v":660},{"s":"pur1","i":98,"v":620},{"s":"pur1","i":100,"v":825},{"s":"pur1","i":102,"v":780},{"s":"pur1","i":104,"v":660},{"s":"pur1","i":107,"v":760},{"s":"pur1","i":110,"v":910},{"s":"pur1","i":113,"v":960},{"s":"pur1","i":117,"v":1210},{"s":"pur1","i":119,"v":1100},{"s":"pur1","i":122,"v":1260},{"s":"pur1","i":125,"v":1045},{"s":"pur1","i":128,"v":1150},{"s":"pur1","i":131,"v":1260},{"s":"pur1","i":134,"v":990},{"s":"pur1","i":138,"v":1150},{"s":"pur1","i":142,"v":1050},{"s":"pur1","i":145,"v":1300},{"s":"pur1","i":148,"v":1450},{"s":"pur1","i":151,"v":1670},{"s":"pur1","i":153,"v":1400},{"s":"pur1","i":156,"v":1645},{"s":"pur1","i":158,"v":1450},{"s":"pur1","i":161,"v":1210},{"s":"pur1","i":164,"v":990},{"s":"pur1","i":167,"v":900},{"s":"pur1","i":170,"v":850},{"s":"pur1","i":173,"v":1000},{"s":"pur1","i":177,"v":1317},{"s":"pur1","i":179,"v":1375},{"s":"pur1","i":181,"v":1150},{"s":"pur1","i":184,"v":935},{"s":"pur1","i":187,"v":850},{"s":"pur1","i":189,"v":720},{"s":"pur1","i":193,"v":650},{"s":"pur1","i":197,"v":700},{"s":"pur1","i":201,"v":550},{"s":"pur1","i":205,"v":620},{"s":"pur1","i":210,"v":500},{"s":"pur1","i":215,"v":580},{"s":"pur1","i":220,"v":450},{"s":"pur1","i":228,"v":520},{"s":"pur1","i":235,"v":400},{"s":"pur1","i":245,"v":450},{"s":"pur1","i":255,"v":350},{"s":"pur1","i":265,"v":420},{"s":"pur1","i":280,"v":300},{"s":"pur1","i":295,"v":380},{"s":"pur1","i":310,"v":280},{"s":"pur1","i":330,"v":330},{"s":"pur1","i":350,"v":250},{"s":"pur1","i":370,"v":300},{"s":"pur1","i":385,"v":220},{"s":"pur1","i":400,"v":260},
   {"s":"pur2","i":1,"v":100},{"s":"pur2","i":20,"v":110},{"s":"pur2","i":40,"v":150},{"s":"pur2","i":60,"v":170},{"s":"pur2","i":80,"v":220},{"s":"pur2","i":100,"v":260},{"s":"pur2","i":120,"v":300},{"s":"pur2","i":135,"v":450},{"s":"pur2","i":145,"v":600},{"s":"pur2","i":160,"v":500},{"s":"pur2","i":175,"v":650},{"s":"pur2","i":190,"v":700},{"s":"pur2","i":200,"v":900},{"s":"pur2","i":205,"v":800},{"s":"pur2","i":210,"v":950},{"s":"pur2","i":215,"v":850},{"s":"pur2","i":220,"v":1000},{"s":"pur2","i":225,"v":900},{"s":"pur2","i":230,"v":1200},{"s":"pur2","i":234,"v":1100},{"s":"pur2","i":237,"v":1600},{"s":"pur2","i":240,"v":1863},{"s":"pur2","i":242,"v":1700},{"s":"pur2","i":245,"v":1650},{"s":"pur2","i":248,"v":1800},{"s":"pur2","i":251,"v":1700},{"s":"pur2","i":254,"v":2082},{"s":"pur2","i":257,"v":1900},{"s":"pur2","i":260,"v":2300},{"s":"pur2","i":262,"v":2200},{"s":"pur2","i":264,"v":2410},{"s":"pur2","i":266,"v":2136},{"s":"pur2","i":268,"v":1900},{"s":"pur2","i":270,"v":1754},{"s":"pur2","i":273,"v":1863},{"s":"pur2","i":277,"v":1700},{"s":"pur2","i":281,"v":1590},{"s":"pur2","i":283,"v":1650},{"s":"pur2","i":286,"v":1480},{"s":"pur2","i":290,"v":1371},{"s":"pur2","i":293,"v":1450},{"s":"pur2","i":297,"v":1645},{"s":"pur2","i":300,"v":1400},{"s":"pur2","i":304,"v":1153},{"s":"pur2","i":307,"v":1200},{"s":"pur2","i":310,"v":1100},{"s":"pur2","i":314,"v":1150},{"s":"pur2","i":318,"v":1050},{"s":"pur2","i":322,"v":1100},{"s":"pur2","i":326,"v":1000},{"s":"pur2","i":330,"v":1080},{"s":"pur2","i":334,"v":1050},{"s":"pur2","i":338,"v":1120},{"s":"pur2","i":342,"v":1000},{"s":"pur2","i":346,"v":1050},{"s":"pur2","i":350,"v":1150},{"s":"pur2","i":353,"v":1100},{"s":"pur2","i":356,"v":1300},{"s":"pur2","i":359,"v":1480},{"s":"pur2","i":362,"v":1400},{"s":"pur2","i":365,"v":1645},{"s":"pur2","i":368,"v":1500},{"s":"pur2","i":370,"v":1400},{"s":"pur2","i":373,"v":1250},{"s":"pur2","i":376,"v":1150},{"s":"pur2","i":379,"v":1250},{"s":"pur2","i":382,"v":1100},{"s":"pur2","i":385,"v":1050},{"s":"pur2","i":388,"v":1200},{"s":"pur2","i":391,"v":1300},{"s":"pur2","i":394,"v":1100},{"s":"pur2","i":397,"v":1250},{"s":"pur2","i":400,"v":1200},
   {"s":"pur3","i":1,"v":100},{"s":"pur3","i":30,"v":120},{"s":"pur3","i":60,"v":150},{"s":"pur3","i":90,"v":200},{"s":"pur3","i":120,"v":180},{"s":"pur3","i":150,"v":250},{"s":"pur3","i":180,"v":300},{"s":"pur3","i":200,"v":350},{"s":"pur3","i":220,"v":300},{"s":"pur3","i":240,"v":450},{"s":"pur3","i":255,"v":550},{"s":"pur3","i":265,"v":600},{"s":"pur3","i":272,"v":700},{"s":"pur3","i":278,"v":825},{"s":"pur3","i":283,"v":950},{"s":"pur3","i":287,"v":1100},{"s":"pur3","i":292,"v":1262},{"s":"pur3","i":296,"v":1500},{"s":"pur3","i":300,"v":1754},{"s":"pur3","i":303,"v":1900},{"s":"pur3","i":306,"v":2136},{"s":"pur3","i":309,"v":2000},{"s":"pur3","i":311,"v":2200},{"s":"pur3","i":313,"v":2082},{"s":"pur3","i":316,"v":2150},{"s":"pur3","i":319,"v":2050},{"s":"pur3","i":322,"v":2250},{"s":"pur3","i":325,"v":2100},{"s":"pur3","i":328,"v":1945},{"s":"pur3","i":331,"v":2500},{"s":"pur3","i":333,"v":2700},{"s":"pur3","i":335,"v":2901},{"s":"pur3","i":337,"v":2800},{"s":"pur3","i":338,"v":2737},{"s":"pur3","i":340,"v":2902},{"s":"pur3","i":342,"v":2957},{"s":"pur3","i":344,"v":2750},{"s":"pur3","i":346,"v":2900},{"s":"pur3","i":348,"v":2700},{"s":"pur3","i":350,"v":2950},{"s":"pur3","i":352,"v":2800},{"s":"pur3","i":355,"v":3150},{"s":"pur3","i":357,"v":2800},{"s":"pur3","i":358,"v":2600},{"s":"pur3","i":360,"v":2245},{"s":"pur3","i":363,"v":2100},{"s":"pur3","i":366,"v":1918},{"s":"pur3","i":368,"v":1800},{"s":"pur3","i":370,"v":1645},{"s":"pur3","i":372,"v":1500},{"s":"pur3","i":373,"v":1371},{"s":"pur3","i":375,"v":1800},{"s":"pur3","i":376,"v":2460},{"s":"pur3","i":378,"v":2300},{"s":"pur3","i":380,"v":2450},{"s":"pur3","i":382,"v":2200},{"s":"pur3","i":384,"v":2400},{"s":"pur3","i":386,"v":2250},{"s":"pur3","i":388,"v":2600},{"s":"pur3","i":390,"v":2950},{"s":"pur3","i":392,"v":2500},{"s":"pur3","i":394,"v":2000},{"s":"pur3","i":396,"v":1500},{"s":"pur3","i":398,"v":1260},{"s":"pur3","i":400,"v":1150},
   {"s":"lgreen","i":1,"v":100},{"s":"lgreen","i":12,"v":130},{"s":"lgreen","i":25,"v":160},{"s":"lgreen","i":40,"v":200},{"s":"lgreen","i":55,"v":300},{"s":"lgreen","i":65,"v":350},{"s":"lgreen","i":75,"v":330},{"s":"lgreen","i":90,"v":400},{"s":"lgreen","i":105,"v":450},{"s":"lgreen","i":120,"v":600},{"s":"lgreen","i":130,"v":700},{"s":"lgreen","i":140,"v":650},{"s":"lgreen","i":150,"v":500},{"s":"lgreen","i":160,"v":600},{"s":"lgreen","i":170,"v":550},{"s":"lgreen","i":180,"v":700},{"s":"lgreen","i":190,"v":650},{"s":"lgreen","i":200,"v":800},{"s":"lgreen","i":208,"v":700},{"s":"lgreen","i":215,"v":900},{"s":"lgreen","i":221,"v":1150},{"s":"lgreen","i":225,"v":1000},{"s":"lgreen","i":229,"v":1500},{"s":"lgreen","i":233,"v":1400},{"s":"lgreen","i":236,"v":1590},{"s":"lgreen","i":240,"v":1450},{"s":"lgreen","i":244,"v":1800},{"s":"lgreen","i":248,"v":2100},{"s":"lgreen","i":252,"v":2410},{"s":"lgreen","i":255,"v":2100},{"s":"lgreen","i":258,"v":1850},{"s":"lgreen","i":261,"v":1950},{"s":"lgreen","i":265,"v":1645},{"s":"lgreen","i":269,"v":2082},{"s":"lgreen","i":273,"v":2410},{"s":"lgreen","i":276,"v":2191},{"s":"lgreen","i":279,"v":2450},{"s":"lgreen","i":283,"v":2683},{"s":"lgreen","i":284,"v":2300},{"s":"lgreen","i":287,"v":2500},{"s":"lgreen","i":289,"v":2245},{"s":"lgreen","i":291,"v":2450},{"s":"lgreen","i":293,"v":2683},{"s":"lgreen","i":295,"v":2901},{"s":"lgreen","i":297,"v":2683},{"s":"lgreen","i":299,"v":2245},{"s":"lgreen","i":302,"v":2500},{"s":"lgreen","i":304,"v":2700},{"s":"lgreen","i":306,"v":2847},{"s":"lgreen","i":309,"v":2650},{"s":"lgreen","i":312,"v":2850},{"s":"lgreen","i":315,"v":2956},{"s":"lgreen","i":318,"v":2700},{"s":"lgreen","i":321,"v":2850},{"s":"lgreen","i":324,"v":3010},{"s":"lgreen","i":326,"v":3150},{"s":"lgreen","i":328,"v":3338},{"s":"lgreen","i":330,"v":2902},{"s":"lgreen","i":332,"v":2519},{"s":"lgreen","i":334,"v":2200},{"s":"lgreen","i":336,"v":1900},{"s":"lgreen","i":339,"v":1535},{"s":"lgreen","i":341,"v":1700},{"s":"lgreen","i":343,"v":1900},{"s":"lgreen","i":345,"v":2200},{"s":"lgreen","i":348,"v":2573},{"s":"lgreen","i":350,"v":2900},{"s":"lgreen","i":352,"v":3229},{"s":"lgreen","i":354,"v":3700},{"s":"lgreen","i":356,"v":3995},{"s":"lgreen","i":358,"v":3667},{"s":"lgreen","i":360,"v":4300},{"s":"lgreen","i":362,"v":4900},{"s":"lgreen","i":364,"v":5498},{"s":"lgreen","i":366,"v":4800},{"s":"lgreen","i":367,"v":4651},{"s":"lgreen","i":368,"v":4214},{"s":"lgreen","i":370,"v":4300},{"s":"lgreen","i":372,"v":3886},{"s":"lgreen","i":374,"v":4400},{"s":"lgreen","i":375,"v":4869},{"s":"lgreen","i":377,"v":4214},{"s":"lgreen","i":378,"v":4000},{"s":"lgreen","i":380,"v":4100},{"s":"lgreen","i":382,"v":3800},{"s":"lgreen","i":384,"v":3500},{"s":"lgreen","i":387,"v":2957},{"s":"lgreen","i":389,"v":3300},{"s":"lgreen","i":391,"v":3558},{"s":"lgreen","i":393,"v":4159},{"s":"lgreen","i":396,"v":3503},{"s":"lgreen","i":398,"v":3300},{"s":"lgreen","i":400,"v":2902},
   {"s":"red","i":1,"v":100},{"s":"red","i":10,"v":120},{"s":"red","i":20,"v":140},{"s":"red","i":30,"v":125},{"s":"red","i":40,"v":160},{"s":"red","i":50,"v":150},{"s":"red","i":60,"v":190},{"s":"red","i":70,"v":230},{"s":"red","i":80,"v":210},{"s":"red","i":90,"v":260},{"s":"red","i":100,"v":300},{"s":"red","i":110,"v":280},{"s":"red","i":120,"v":330},{"s":"red","i":130,"v":390},{"s":"red","i":140,"v":360},{"s":"red","i":150,"v":450},{"s":"red","i":160,"v":420},{"s":"red","i":170,"v":520},{"s":"red","i":178,"v":600},{"s":"red","i":185,"v":560},{"s":"red","i":192,"v":825},{"s":"red","i":197,"v":700},{"s":"red","i":203,"v":990},{"s":"red","i":206,"v":900},{"s":"red","i":210,"v":1317},{"s":"red","i":213,"v":1207},{"s":"red","i":215,"v":1317},{"s":"red","i":218,"v":1220},{"s":"red","i":220,"v":1371},{"s":"red","i":223,"v":1250},{"s":"red","i":226,"v":1153},{"s":"red","i":228,"v":1300},{"s":"red","i":230,"v":1016},{"s":"red","i":234,"v":1200},{"s":"red","i":238,"v":1600},{"s":"red","i":242,"v":2027},{"s":"red","i":245,"v":1645},{"s":"red","i":248,"v":1480},{"s":"red","i":251,"v":1800},{"s":"red","i":253,"v":1650},{"s":"red","i":256,"v":2082},{"s":"red","i":259,"v":1850},{"s":"red","i":262,"v":2150},{"s":"red","i":265,"v":1810},{"s":"red","i":268,"v":2300},{"s":"red","i":270,"v":2520},{"s":"red","i":273,"v":2245},{"s":"red","i":276,"v":2574},{"s":"red","i":279,"v":3147},{"s":"red","i":282,"v":2737},{"s":"red","i":284,"v":1918},{"s":"red","i":286,"v":1808},{"s":"red","i":288,"v":1890},{"s":"red","i":289,"v":1754},{"s":"red","i":292,"v":1727},{"s":"red","i":294,"v":2027},{"s":"red","i":296,"v":1890},{"s":"red","i":298,"v":2082},{"s":"red","i":299,"v":1918},{"s":"red","i":301,"v":2273},{"s":"red","i":304,"v":2574},{"s":"red","i":306,"v":2792},{"s":"red","i":309,"v":2901},{"s":"red","i":311,"v":2792},{"s":"red","i":313,"v":3038},{"s":"red","i":315,"v":2847},{"s":"red","i":316,"v":3038},{"s":"red","i":318,"v":2750},{"s":"red","i":320,"v":2464},{"s":"red","i":322,"v":2300},{"s":"red","i":323,"v":2450},{"s":"red","i":325,"v":2273},{"s":"red","i":327,"v":2500},{"s":"red","i":329,"v":2683},{"s":"red","i":331,"v":3010},{"s":"red","i":333,"v":3530},{"s":"red","i":335,"v":3284},{"s":"red","i":338,"v":3885},{"s":"red","i":340,"v":4541},{"s":"red","i":342,"v":4185},{"s":"red","i":345,"v":5197},{"s":"red","i":347,"v":4814},{"s":"red","i":349,"v":5525},{"s":"red","i":352,"v":6344},{"s":"red","i":353,"v":7192},{"s":"red","i":355,"v":6590},{"s":"red","i":356,"v":6945},{"s":"red","i":357,"v":6344},{"s":"red","i":358,"v":6727},{"s":"red","i":360,"v":6016},{"s":"red","i":361,"v":6300},{"s":"red","i":362,"v":5689},{"s":"red","i":364,"v":6399},{"s":"red","i":366,"v":5852},{"s":"red","i":367,"v":6100},{"s":"red","i":369,"v":5415},{"s":"red","i":371,"v":6098},{"s":"red","i":373,"v":5634},{"s":"red","i":374,"v":5852},{"s":"red","i":375,"v":4923},{"s":"red","i":378,"v":5005},{"s":"red","i":380,"v":4213},{"s":"red","i":384,"v":3175},{"s":"red","i":386,"v":3120},{"s":"red","i":388,"v":3500},{"s":"red","i":391,"v":4050},{"s":"red","i":394,"v":4377},{"s":"red","i":397,"v":3721},{"s":"red","i":400,"v":3230}
  ]
 },
 "vconcat": [
  {
   "width": 978,
   "height": 137,
   "encoding": {
    "x": {"field": "x1", "type": "quantitative", "scale": {"domain": [46, 1024], "nice": false, "zero": false}, "axis": null},
    "y": {"field": "y1", "type": "quantitative", "scale": {"domain": [137, 0], "nice": false, "zero": false}, "axis": null}
   },
   "layer": [
    {"data": {"name": "tlines"}, "transform": [{"filter": "datum.k == 'grid'"}], "mark": {"type": "rule", "color": "#D3D8EA", "strokeWidth": 1}, "encoding": {"x2": {"field": "x2"}, "y2": {"field": "y2"}}},
    {"data": {"name": "tlines"}, "transform": [{"filter": "datum.k == 'thin'"}], "mark": {"type": "rule", "color": "#000000", "strokeWidth": 1}, "encoding": {"x2": {"field": "x2"}, "y2": {"field": "y2"}}},
    {"data": {"name": "tlines"}, "transform": [{"filter": "datum.k == 'thick'"}], "mark": {"type": "rule", "color": "#000000", "strokeWidth": 2, "strokeCap": "square"}, "encoding": {"x2": {"field": "x2"}, "y2": {"field": "y2"}}},
    {"data": {"name": "ttext"}, "transform": [{"filter": "datum.p == 'title'"}], "mark": {"type": "text", "fontSize": 17, "fontWeight": "bold", "baseline": "middle", "align": "center", "color": "#000"}, "encoding": {"x": {"field": "cx", "type": "quantitative"}, "y": {"field": "ty", "type": "quantitative"}, "text": {"field": "t"}}},
    {"data": {"name": "ttext"}, "transform": [{"filter": "datum.p == 'h'"}], "mark": {"type": "text", "fontSize": 9.8, "fontWeight": "bold", "baseline": "middle", "align": "center", "color": "#000"}, "encoding": {"x": {"field": "cx", "type": "quantitative"}, "y": {"field": "ty", "type": "quantitative"}, "text": {"field": "t"}}},
    {"data": {"name": "ttext"}, "transform": [{"filter": "datum.p == 'sym'"}], "mark": {"type": "text", "fontSize": 10, "fontWeight": "bold", "baseline": "middle", "align": "center", "color": "#000"}, "encoding": {"x": {"field": "cx", "type": "quantitative"}, "y": {"field": "ty", "type": "quantitative"}, "text": {"field": "t"}}},
    {"data": {"name": "ttext"}, "transform": [{"filter": "datum.p == 'f'"}], "mark": {"type": "text", "fontSize": 10.5, "baseline": "middle", "align": "center", "color": "#333"}, "encoding": {"x": {"field": "cx", "type": "quantitative"}, "y": {"field": "ty", "type": "quantitative"}, "text": {"field": "t"}}},
    {"data": {"name": "ttext"}, "transform": [{"filter": "datum.p == 'sig'"}], "mark": {"type": "text", "fontSize": 8, "fontWeight": "bold", "baseline": "middle", "align": "center", "color": "#000"}, "encoding": {"x": {"field": "cx", "type": "quantitative"}, "y": {"field": "ty", "type": "quantitative"}, "text": {"field": "t"}}},
    {"data": {"name": "ttext"}, "transform": [{"filter": "datum.p == 'val'"}], "mark": {"type": "text", "fontSize": 10, "fontWeight": "bold", "baseline": "middle", "align": "center", "color": "#000"}, "encoding": {"x": {"field": "cx", "type": "quantitative"}, "y": {"field": "ty", "type": "quantitative"}, "text": {"field": "t"}}}
   ]
  },
  {
   "width": 962,
   "height": 488,
   "encoding": {
    "x": {"field": "i", "type": "quantitative", "scale": {"domain": [0.5, 400.5], "nice": false, "zero": false},
      "axis": {"values": [1,7,13,19,25,31,37,43,49,55,61,67,73,79,85,91,97,103,109,115,121,127,133,139,145,151,157,163,169,175,181,187,193,199,205,211,217,223,229,235,241,247,253,259,265,271,277,283,289,295,301,307,313,319,325,331,337,343,349,355,361,367,373,379,385,391,397],
       "format": "d", "labelAngle": 270, "grid": false, "ticks": false, "domainColor": "#9A9A9A", "labelFontSize": 9.5, "labelColor": "#222", "title": null, "labelPadding": 4, "labelFlush": false, "labelOverlap": false, "labelBound": false}},
    "y": {"field": "v", "type": "quantitative", "scale": {"domain": [0, 8000], "nice": false},
      "axis": {"values": [0,1000,2000,3000,4000,5000,6000,7000,8000], "format": "d", "grid": true, "gridColor": "#A0A0A0", "ticks": false, "domainColor": "#9A9A9A", "labelFontSize": 9.5, "labelColor": "#222", "title": null, "labelPadding": 8, "minExtent": 46, "labelFlush": false}}
   },
   "layer": [
    {"data": {"name": "low"}, "mark": {"type": "line", "strokeWidth": 2.4, "strokeJoin": "round"},
     "encoding": {"color": {"field": "s", "type": "nominal", "legend": null,
       "scale": {"domain": ["l1","l2","l3","l4","l5","l6","l7","l8","l9","l10","l11","l12","l13","l14","l15","l16","l17","l18","l19","l20","l21","l22","l23","l24","l25","l26","l27","dteal","lblue","orange","green","lg2","pink","teal","pur1","pur2","pur3","lgreen","red"],
        "range": ["#4F81BD","#1F497D","#E46C0A","#953735","#F79646","#8DB4E2","#FAC090","#B7DEE8","#CCC1DA","#C3D69B","#FCD5B5","#604A7B","#4BACC6","#C0504D","#76923C","#9BBB59","#31859C","#E6B9B8","#95B3D7","#F9AB6B","#4F81BD","#8064A2","#C0504D","#4BACC6","#F79646","#9BBB59","#8064A2","#31849B","#95B3D7","#F79646","#9BBB59","#AFC97A","#E6B9B8","#4BACC6","#7F61A0","#7F61A0","#7F61A0","#B1CB85","#BE4B48"]}}}},
    {"data": {"name": "dash"}, "mark": {"type": "line", "strokeWidth": 2.4, "color": "#000000", "strokeDash": [7, 4]},
     "encoding": {"detail": {"field": "s", "type": "nominal"}}},
    {"data": {"name": "major"}, "mark": {"type": "line", "strokeWidth": 2.6, "strokeJoin": "round"},
     "encoding": {"color": {"field": "s", "type": "nominal", "legend": null,
       "scale": {"domain": ["l1","l2","l3","l4","l5","l6","l7","l8","l9","l10","l11","l12","l13","l14","l15","l16","l17","l18","l19","l20","l21","l22","l23","l24","l25","l26","l27","dteal","lblue","orange","green","lg2","pink","teal","pur1","pur2","pur3","lgreen","red"],
        "range": ["#4F81BD","#1F497D","#E46C0A","#953735","#F79646","#8DB4E2","#FAC090","#B7DEE8","#CCC1DA","#C3D69B","#FCD5B5","#604A7B","#4BACC6","#C0504D","#76923C","#9BBB59","#31859C","#E6B9B8","#95B3D7","#F9AB6B","#4F81BD","#8064A2","#C0504D","#4BACC6","#F79646","#9BBB59","#8064A2","#31849B","#95B3D7","#F79646","#9BBB59","#AFC97A","#E6B9B8","#4BACC6","#7F61A0","#7F61A0","#7F61A0","#B1CB85","#BE4B48"]}}}}
   ]
  }
 ]
}
